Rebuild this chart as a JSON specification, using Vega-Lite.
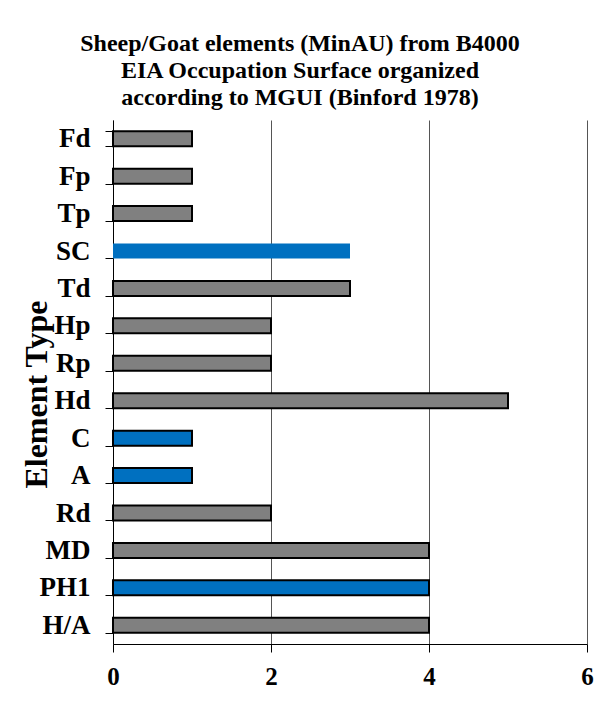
{
  "$schema": "https://vega.github.io/schema/vega-lite/v6.json",
  "width": 474,
  "height": 524,
  "autosize": {"type": "none"},
  "padding": {"left": 113, "top": 120, "right": 13, "bottom": 77},
  "background": "white",
  "title": {
    "text": ["Sheep/Goat elements (MinAU) from B4000", "EIA Occupation Surface organized", "according to MGUI (Binford 1978)"],
    "font": "Liberation Serif",
    "fontSize": 24,
    "fontWeight": "bold",
    "lineHeight": 27,
    "color": "black",
    "anchor": "middle",
    "frame": "group",
    "dx": -50,
    "offset": -4
  },
  "data": {
    "values": [
      {"element": "Fd", "value": 1, "group": "other"},
      {"element": "Fp", "value": 1, "group": "other"},
      {"element": "Tp", "value": 1, "group": "other"},
      {"element": "SC", "value": 3, "group": "highlight"},
      {"element": "Td", "value": 3, "group": "other"},
      {"element": "Hp", "value": 2, "group": "other"},
      {"element": "Rp", "value": 2, "group": "other"},
      {"element": "Hd", "value": 5, "group": "other"},
      {"element": "C", "value": 1, "group": "highlight"},
      {"element": "A", "value": 1, "group": "highlight"},
      {"element": "Rd", "value": 2, "group": "other"},
      {"element": "MD", "value": 4, "group": "other"},
      {"element": "PH1", "value": 4, "group": "highlight"},
      {"element": "H/A", "value": 4, "group": "other"}
    ]
  },
  "mark": {"type": "bar", "stroke": "black", "strokeWidth": 2},
  "encoding": {
    "y": {
      "field": "element",
      "type": "nominal",
      "sort": null,
      "scale": {"paddingInner": 0.6, "paddingOuter": 0.3},
      "axis": {
        "domain": true,
        "domainColor": "black",
        "domainWidth": 1,
        "ticks": true,
        "tickBand": "extent",
        "tickSize": 8,
        "tickColor": "black",
        "labelPadding": 15,
        "labelFont": "Liberation Serif",
        "labelFontSize": 27,
        "labelFontWeight": "bold",
        "labelColor": "black",
        "title": "Element Type",
        "titleFont": "Liberation Serif",
        "titleFontSize": 32,
        "titleFontWeight": "bold",
        "titleColor": "black",
        "titleX": -77,
        "titleY": 274,
        "titleAngle": 270,
        "titleAlign": "center",
        "titleBaseline": "middle"
      }
    },
    "x": {
      "field": "value",
      "type": "quantitative",
      "scale": {"domain": [0, 6]},
      "axis": {
        "values": [0, 2, 4, 6],
        "title": null,
        "domain": true,
        "domainColor": "black",
        "domainWidth": 1,
        "ticks": true,
        "tickSize": 8,
        "tickColor": "black",
        "grid": true,
        "gridColor": "#555555",
        "gridWidth": 1,
        "labelFont": "Liberation Serif",
        "labelFontSize": 25,
        "labelFontWeight": "bold",
        "labelColor": "black",
        "labelPadding": 12,
        "labelFlush": false
      }
    },
    "color": {
      "field": "group",
      "type": "nominal",
      "scale": {"domain": ["other", "highlight"], "range": ["#808080", "#0070C0"]},
      "legend": null
    },
    "strokeOpacity": {
      "condition": {"test": "datum.element === 'SC'", "value": 0},
      "value": 1
    }
  },
  "config": {"view": {"stroke": null}}
}
